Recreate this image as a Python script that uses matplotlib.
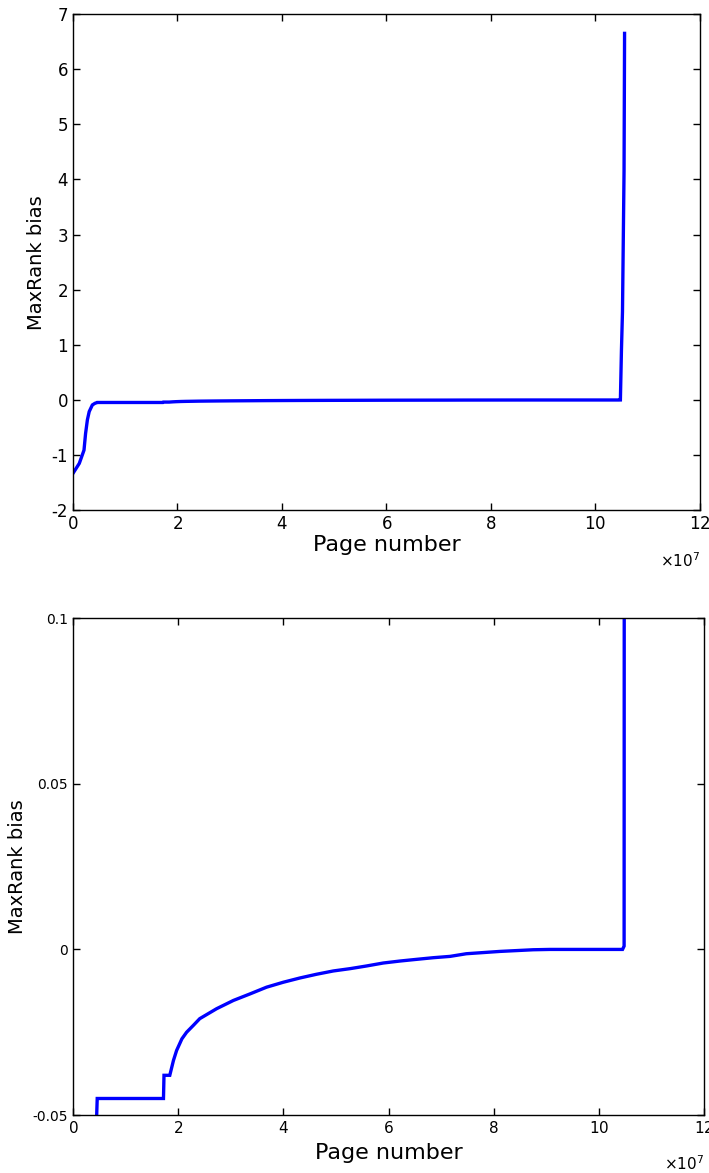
import numpy as np
import matplotlib
matplotlib.use('Agg')
import matplotlib.pyplot as plt
from matplotlib.ticker import FuncFormatter
from matplotlib.transforms import ScaledTranslation

plt.rc('font', family='DejaVu Sans')
plt.rc('axes', unicode_minus=False, linewidth=1.0)
plt.rc('xtick', direction='in', top=True)
plt.rc('ytick', direction='in', right=True)

# page number (units of 1e7 pages) and MaxRank bias
page_e7 = [0.0, 0.12, 0.21, 0.24, 0.275, 0.31, 0.37, 0.42, 0.45, 0.46,
           1.72, 1.73, 1.84, 1.91, 1.97, 2.07, 2.16, 2.29, 2.41, 2.73,
           3.05, 3.37, 3.68, 4.00, 4.32, 4.63, 4.95, 5.27, 5.58, 5.90,
           6.22, 6.53, 6.85, 7.17, 7.48, 8.12, 8.75, 9.07, 10.45, 10.48,
           10.50, 10.52, 10.55, 10.56]
bias = [-1.33, -1.15, -0.91, -0.61, -0.36, -0.21, -0.09, -0.06, -0.05, -0.045,
        -0.045, -0.038, -0.038, -0.0335, -0.0305, -0.027, -0.025, -0.0229, -0.0209, -0.0179,
        -0.0154, -0.0134, -0.0114, -0.0099, -0.0086, -0.0075, -0.0065, -0.0058, -0.0050, -0.0041,
        -0.0035, -0.0030, -0.0025, -0.0021, -0.0013, -0.0006, -0.0001, 0.0, 0.0, 0.001,
        0.9, 1.6, 4.15, 6.65]

pages = np.array(page_e7) * 1e7

fig = plt.figure(figsize=(7.09, 11.73), dpi=100)
ax1 = fig.add_axes([0.103, 0.565, 0.884, 0.423])
ax2 = fig.add_axes([0.103, 0.0494, 0.890, 0.4236])

for ax in (ax1, ax2):
    ax.plot(pages, bias, color='#0000ff', lw=2.4, solid_joinstyle='miter')
    ax.set_xlim(0, 1.2e8)
    ax.set_xticks(np.arange(0, 1.21e8, 2e7))
    ax.ticklabel_format(axis='x', style='sci', scilimits=(7, 7), useMathText=True)
    ax.tick_params(length=5, width=1.0)
    ax.set_ylabel('MaxRank bias', fontsize=14)
    ot = ax.xaxis.get_offset_text()
    ot.set_fontsize(11)
    ot.set_transform(ot.get_transform() + ScaledTranslation(0, -10 / 72, fig.dpi_scale_trans))

ax1.set_xlabel('Page number', fontsize=16, labelpad=1)
ax1.set_ylim(-2, 7)
ax1.set_yticks(np.arange(-2, 8, 1))
ax1.tick_params(labelsize=12)

ax2.set_xlabel('Page number', fontsize=16, labelpad=5)
ax2.set_ylim(-0.05, 0.1)
ax2.set_yticks([-0.05, 0, 0.05, 0.1])
ax2.yaxis.set_major_formatter(FuncFormatter(lambda v, _: f'{v:g}'))
ax2.tick_params(axis='y', labelsize=10)
ax2.tick_params(axis='x', labelsize=11)

fig.savefig('out.png', dpi=100)
